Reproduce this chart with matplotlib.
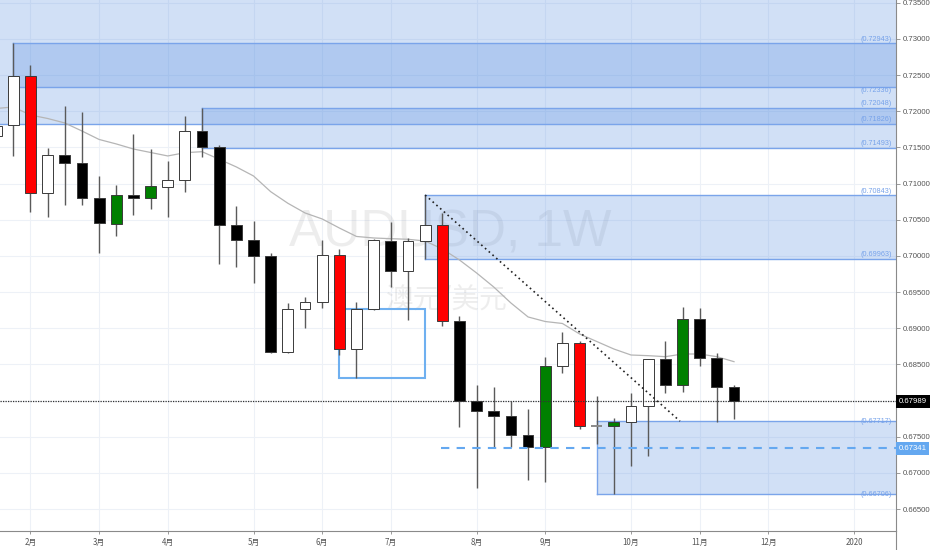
import matplotlib
matplotlib.use("Agg")
import matplotlib.pyplot as plt
import matplotlib.transforms as mtransforms
from matplotlib.patches import Rectangle
from matplotlib.lines import Line2D
import numpy as np

# Weekly AUDUSD candles, week of 21 Jan 2019 onwards (index = week number)
opens = [0.71663, 0.71811, 0.72493, 0.70875, 0.71396, 0.71282, 0.70798, 0.70448,
         0.70848, 0.70800, 0.70958, 0.71047, 0.71728, 0.71511, 0.70429, 0.70221,
         0.70000, 0.68669, 0.69267, 0.69364, 0.70012, 0.68710, 0.69267, 0.70212,
         0.69793, 0.70207, 0.70429, 0.69101, 0.67995, 0.67857, 0.67788, 0.67525,
         0.67355, 0.68483, 0.68801, 0.67652, 0.67650, 0.67698, 0.67922, 0.68572,
         0.68216, 0.69129, 0.68586, 0.68193]
highs = [0.71900, 0.72943, 0.72645, 0.71493, 0.72074, 0.71991, 0.71106, 0.70982,
         0.71687, 0.71479, 0.71318, 0.71929, 0.72048, 0.71535, 0.70691, 0.70484,
         0.70037, 0.69354, 0.69437, 0.70221, 0.70093, 0.69368, 0.70230, 0.70474,
         0.70245, 0.70843, 0.70590, 0.69170, 0.68216, 0.68185, 0.67995, 0.67880,
         0.68608, 0.68945, 0.68829, 0.68064, 0.67760, 0.68102, 0.68580, 0.68829,
         0.69299, 0.69277, 0.68663, 0.68216]
lows = [0.71400, 0.71387, 0.70604, 0.70543, 0.70705, 0.70705, 0.70046, 0.70277,
        0.70567, 0.70646, 0.70535, 0.70885, 0.71369, 0.69889, 0.69852, 0.69631,
        0.68655, 0.68655, 0.68998, 0.69285, 0.68631, 0.68317, 0.69255, 0.69567,
        0.69115, 0.69963, 0.69032, 0.67632, 0.66788, 0.67363, 0.67363, 0.66903,
        0.66879, 0.68378, 0.67604, 0.67398, 0.66706, 0.67101, 0.67239, 0.68102,
        0.68120, 0.68479, 0.67701, 0.67742]
closes = [0.71802, 0.72493, 0.70875, 0.71396, 0.71282, 0.70798, 0.70452, 0.70839,
          0.70806, 0.70964, 0.71047, 0.71728, 0.71511, 0.70429, 0.70221, 0.70000,
          0.68669, 0.69267, 0.69364, 0.70010, 0.68710, 0.69267, 0.70221, 0.69793,
          0.70212, 0.70429, 0.69101, 0.67995, 0.67857, 0.67788, 0.67525, 0.67355,
          0.68483, 0.68801, 0.67650, 0.67652, 0.67698, 0.67922, 0.68572, 0.68216,
          0.69129, 0.68586, 0.68193, 0.67989]
moving_avg = [0.72039, 0.72060, 0.71949, 0.71901, 0.71839, 0.71728, 0.71611, 0.71549,
              0.71479, 0.71431, 0.71383, 0.71428, 0.71442, 0.71337, 0.71231, 0.71106,
              0.70889, 0.70729, 0.70595, 0.70512, 0.70387, 0.70270, 0.70249, 0.70239,
              0.70231, 0.70207, 0.70097, 0.69945, 0.69765, 0.69571, 0.69350, 0.69157,
              0.69094, 0.69067, 0.68922, 0.68818, 0.68714, 0.68631, 0.68622, 0.68608,
              0.68645, 0.68645, 0.68608, 0.68539]

month_ticks = [2, 6, 10, 15, 19, 23, 28, 32, 37, 41, 45, 50]
month_labels = ['2月', '3月', '4月', '5月', '6月', '7月', '8月', '9月', '10月', '11月', '12月', '2020']

# supply / demand zones: (low, high, first week)
zone_lows = [0.71826, 0.72336, 0.71493, 0.69963, 0.66706]
zone_highs = [0.74500, 0.72943, 0.72048, 0.70843, 0.67717]
zone_starts = [-5, 1, 12, 25, 35]

# outlined range box, trend line, levels
range_box = (20, 25, 0.68317, 0.69267)
trend_start = (25, 0.70843)
trend_end = (39.85, 0.67717)
support_level = 0.67341
support_from = 25.9
last_price = closes[-1]

XMIN, XMAX = 0.225, 52.44
YMIN, YMAX = 0.66198, 0.73539

fig = plt.figure(figsize=(9.32, 5.5), dpi=100)
ax = fig.add_axes([0, 1 - 531 / 550, 896 / 932, 531 / 550])
ax.set_xlim(XMIN, XMAX)
ax.set_ylim(YMIN, YMAX)

# grid
yticks = np.arange(0.665, 0.7351, 0.005)
for y in yticks:
    ax.axhline(y, color='#edf1f7', lw=0.8, zorder=0)
for t in month_ticks:
    ax.axvline(t, color='#edf1f7', lw=0.8, zorder=0)

# watermark
ax.text(0.502, 0.561, 'AUDUSD, 1W', transform=ax.transAxes, ha='center', va='center',
        fontsize=37, color='#8c8c8c', alpha=0.15, family='Liberation Sans', zorder=1)
ax.text(0.499, 0.435, '澳元/美元', transform=ax.transAxes, ha='center', va='center',
        fontsize=20, color='#8c8c8c', alpha=0.15, family=['Noto Sans CJK SC', 'DejaVu Sans'], zorder=1)

# zones
zone_color = '#5b90e2'
for lo, hi, st in zip(zone_lows, zone_highs, zone_starts):
    ax.add_patch(Rectangle((st, lo), 200, hi - lo, facecolor=zone_color, alpha=0.28,
                           edgecolor='none', zorder=1))
    ax.plot([st, st + 200], [lo, lo], color='#7aa4ea', lw=1, zorder=1.2)
    ax.plot([st, st + 200], [hi, hi], color='#7aa4ea', lw=1, zorder=1.2)
    ax.plot([st, st], [lo, hi], color='#7aa4ea', lw=1, zorder=1.2)

blend = mtransforms.blended_transform_factory(ax.transAxes, ax.transData)
px = (YMAX - YMIN) / 531
for lo, hi in zip(zone_lows, zone_highs):
    for lvl in (lo, hi):
        if not (YMIN < lvl < YMAX):
            continue
        if lvl == 0.72336:
            yy = lvl - 3.5 * px
        elif lvl in (0.67717, 0.66706):
            yy = lvl - 0.5 * px
        else:
            yy = lvl + 4 * px
        ax.text(0.9955, yy, f'({lvl:.5f})', transform=blend, ha='right', va='center',
                fontsize=5.2, color='#76a2ea', family='Liberation Sans', zorder=6)

# range box
x0, x1, b0, b1 = range_box
ax.add_patch(Rectangle((x0, b0), x1 - x0, b1 - b0, facecolor='none',
                       edgecolor='#6fb0f0', lw=1.5, zorder=2))

# moving average
weeks = np.arange(len(opens))
ax.plot(weeks, moving_avg, color='#b5b5b5', lw=0.9, zorder=2)

# candles
o = np.array(opens)
c = np.array(closes)
for i in weeks:
    ax.vlines(i, lows[i], highs[i], color='#5a5a5a', lw=1, zorder=3)
    if o[i] == c[i]:
        ax.hlines(o[i], i - 0.32, i + 0.32, color='#8a8a8a', lw=1.4, zorder=4)
        continue
    fill = 'white' if c[i] > o[i] else 'black'
    if i > 0:
        prev_up = c[i - 1] > o[i - 1]
        prev_down = c[i - 1] <= o[i - 1]
        if c[i] > o[i] and prev_down and o[i] <= c[i - 1] and c[i] > o[i - 1]:
            fill = '#008000'
        if c[i] < o[i] and prev_up and o[i] >= c[i - 1] and c[i] < o[i - 1]:
            fill = '#ff0000'
    ax.bar(i, abs(c[i] - o[i]), bottom=min(o[i], c[i]), width=0.63, color=fill,
           edgecolor='#3a3a3a', lw=0.7, zorder=4)

# trend line and levels
ax.plot([trend_start[0], trend_end[0]], [trend_start[1], trend_end[1]], color='#222222',
        lw=1.2, ls=(0, (1, 2)), zorder=5)
ax.plot([support_from, XMAX], [support_level, support_level], color='#64a8f0', lw=1.5,
        ls=(0, (4, 3.5)), zorder=5)
ax.axhline(last_price, color='#333333', lw=0.9, ls=(0, (1, 1)), zorder=5)

# axes styling
for s in ['top', 'left']:
    ax.spines[s].set_visible(False)
ax.spines['right'].set_color('#8a8a8a')
ax.spines['bottom'].set_color('#8a8a8a')
fig.add_artist(Line2D([896 / 932, 896 / 932], [0, 1 - 531 / 550], color='#8a8a8a', lw=0.8))
ax.yaxis.tick_right()
ax.set_yticks(yticks)
# the 0.68000 label sits under the last-price marker
ax.set_yticklabels(['' if abs(v - last_price) < 0.0003 else f'{v:.5f}' for v in yticks])
ax.tick_params(axis='y', length=3, width=0.6, color='#8a8a8a', pad=2,
               labelsize=5.6, labelcolor='#555555')
ax.set_xticks(month_ticks)
ax.set_xticklabels(month_labels)
ax.tick_params(axis='x', length=2, width=0.6, color='#8a8a8a', pad=3,
               labelsize=5.7, labelcolor='#555555')
for lab in ax.get_xticklabels():
    lab.set_family(['Noto Sans CJK SC', 'DejaVu Sans'])
for lab in ax.get_yticklabels():
    lab.set_family('Liberation Sans')

# price labels on the axis
ax.text(1.003, last_price, f'{last_price:.5f}', transform=blend, ha='left', va='center',
        fontsize=5.6, color='white', family='Liberation Sans', zorder=10, clip_on=False,
        bbox=dict(boxstyle='square,pad=0.35', facecolor='black', edgecolor='none'))
ax.text(1.003, support_level, f'{support_level:.5f}', transform=blend, ha='left', va='center',
        fontsize=5.6, color='white', family='Liberation Sans', zorder=10, clip_on=False,
        bbox=dict(boxstyle='square,pad=0.35', facecolor='#64a8f0', edgecolor='none'))

fig.savefig('out.png', dpi=100)
